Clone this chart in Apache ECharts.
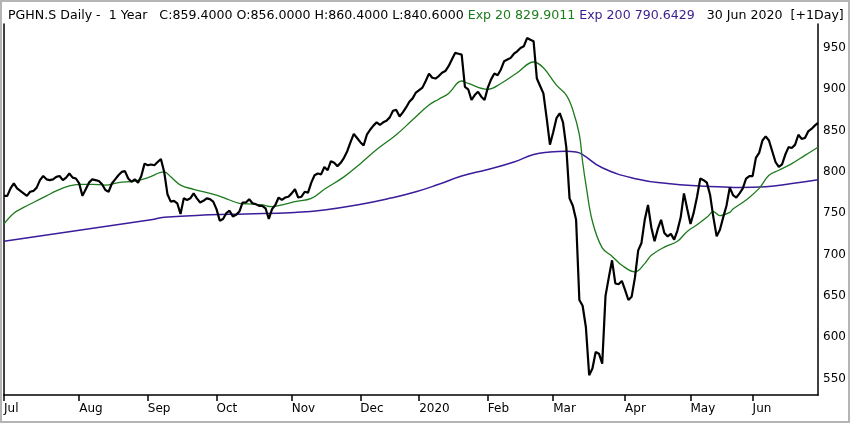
<!DOCTYPE html>
<html>
<head>
<meta charset="utf-8">
<script src="https://cdn.jsdelivr.net/npm/echarts@6/dist/echarts.min.js"></script>
<style>
  html, body { margin: 0; padding: 0; background: #fff; }
  #view { width: 850px; height: 423px; }
</style>
</head>
<body>
<div id="view"></div>
<script>
// SIX closing days skipped between Jul 2019 and Jun 2020
var holidays = ['2019-08-01', '2019-12-24', '2019-12-25', '2019-12-26', '2019-12-31',
    '2020-01-01', '2020-01-02', '2020-04-10', '2020-04-13', '2020-05-01', '2020-05-21', '2020-06-01'];
var monthNames = ['2020', 'Feb', 'Mar', 'Apr', 'May', 'Jun', 'Jul', 'Aug', 'Sep', 'Oct', 'Nov', 'Dec'];
var yTicks = [550, 600, 650, 700, 750, 800, 850, 900, 950];

// daily close
var closes = [
    771, 771, 780, 786, 780, 777, 774, 771, 776, 777,
    781, 790, 795, 791, 790, 791, 794, 795, 790, 793,
    798, 793, 792, 786, 771, 779, 787, 791, 790, 789,
    785, 778, 776, 786, 791, 796, 800, 801, 792, 788,
    791, 787, 795, 810, 808, 809, 808, 812, 815.5, 800,
    773, 764, 765, 762, 749, 768, 766, 768, 774, 768,
    763, 765, 768, 767, 764, 755, 741, 743, 750, 753,
    746, 748, 752, 763, 763, 767, 762, 761, 759, 759,
    756, 743, 755, 760, 769, 766, 769, 770, 774, 779,
    769, 770, 776, 775, 787, 796, 798, 797, 806, 802,
    813, 811, 807, 811, 817, 825, 836, 846, 841, 836,
    832, 845, 851, 856, 860, 857, 860, 862, 866, 874,
    875, 867, 872, 878, 885, 889, 896, 899, 902, 910,
    919, 914, 913, 916, 920, 922, 928, 936, 944, 943,
    942, 903, 900, 887, 893, 897, 891, 887, 902, 912,
    919, 917, 924, 934, 936, 938, 943, 946, 950, 952,
    962, 960, 958, 913, 904, 895, 865, 833, 848, 865,
    871, 860, 830, 768, 759, 742, 645, 638, 612, 554,
    562, 582, 580, 568, 650, 672, 693, 665, 664, 668,
    657, 645, 649, 672, 705, 714, 742, 760, 733, 716,
    731, 742, 726, 722, 725, 718, 729, 745, 774, 755,
    737, 751, 770, 792, 790, 787, 772, 745, 722, 730,
    745, 759, 781, 772, 769, 774, 780, 792, 795, 795,
    817, 823, 838, 843, 838, 825, 812, 806, 809, 821,
    830, 829, 833, 845, 840, 841, 849, 852, 856, 859.4
];

// Exp 20 read at [day index, value]
var exp20 = [
    [0, 737], [3, 750], [6, 757], [9, 763], [13, 771], [16, 777], [20, 783], [23, 785], [27, 785],
    [31, 784], [35, 787], [40, 789], [44, 793], [49, 800], [51, 794], [54, 784], [58, 779], [65, 772],
    [69, 766], [72, 762], [76, 761], [79, 760], [82, 758], [86, 761], [89, 764], [94, 768], [98, 779],
    [104, 794], [109, 810], [114, 827], [120, 845], [125, 863], [130, 881], [133, 888], [136, 895],
    [140, 910], [142, 907], [148, 900], [152, 907], [157, 920], [162, 933], [165, 926], [169, 905],
    [172, 893], [174, 875], [176, 845], [177, 812], [178, 785], [180, 740], [183, 708], [186, 698],
    [189, 687], [193, 679], [196, 689], [198, 699], [202, 709], [206, 716], [209, 728], [212, 736],
    [215, 745], [217, 752], [219, 747], [222, 751], [223, 755], [227, 766], [231, 780], [234, 796],
    [237, 802], [241, 810], [245, 820], [249, 829.9]
];

// Exp 200 read at [day index, value]
var exp200 = [
    [0, 716], [45, 742], [49, 745], [63, 748], [74, 749], [89, 751], [98, 754], [108, 760],
    [118, 768], [126, 776], [133, 785], [140, 795], [148, 803], [156, 812], [162, 821], [167, 824],
    [172, 825], [175, 824], [177, 821], [183, 805], [194, 791], [203, 786], [213, 783], [222, 781.5],
    [225, 781], [233, 782], [241, 786], [249, 790.6]
];

function pad(n) { return n < 10 ? '0' + n : '' + n; }
var days = [];
var d = new Date(Date.UTC(2019, 6, 1));
while (days.length < closes.length) {
    var s = d.getUTCFullYear() + '-' + pad(d.getUTCMonth() + 1) + '-' + pad(d.getUTCDate());
    var wd = d.getUTCDay();
    if (wd !== 0 && wd !== 6 && holidays.indexOf(s) < 0) days.push(s);
    d.setUTCDate(d.getUTCDate() + 1);
}
function isMonthStart(i) {
    return i === 0 || days[i].substr(5, 2) !== days[i - 1].substr(5, 2);
}

var myChart = echarts.init(document.getElementById('view'));
var font = 'DejaVu Sans';
var hs = 12.6; // header font size
var option = {
    animation: false,
    backgroundColor: '#fff',
    title: {
        left: 3,
        top: 4,
        text: '{k|PGHN.S Daily -  1 Year   C:859.4000 O:856.0000 H:860.4000 L:840.6000 }{g|Exp 20 829.9011 }{p|Exp 200 790.6429}{k|   30 Jun 2020  [+1Day]}',
        textStyle: {
            fontWeight: 'normal',
            rich: {
                k: { color: '#000', fontFamily: font, fontSize: hs, fontWeight: 'normal' },
                g: { color: '#1d7a1d', fontFamily: font, fontSize: hs, fontWeight: 'normal' },
                p: { color: '#3b1c8c', fontFamily: font, fontSize: hs, fontWeight: 'normal' }
            }
        }
    },
    graphic: [{
        type: 'rect',
        shape: { x: 1, y: 1, width: 848, height: 421 },
        style: { fill: 'none', stroke: '#b4b4b4', lineWidth: 2 },
        silent: true
    }],
    grid: { left: 4, right: 32, top: 24, bottom: 28 },
    xAxis: {
        type: 'category',
        data: days,
        boundaryGap: false,
        axisLine: { lineStyle: { color: '#000', width: 1.5 } },
        axisTick: {
            length: 6,
            lineStyle: { color: '#000', width: 1.5 },
            interval: function (i) { return isMonthStart(i); }
        },
        axisLabel: {
            interval: function (i) { return isMonthStart(i); },
            align: 'left',
            margin: 8,
            color: '#000',
            fontFamily: font,
            fontSize: 12,
            formatter: function (v) { return monthNames[+v.substr(5, 2) - 1]; }
        },
        splitLine: { show: false }
    },
    yAxis: [{
        type: 'value',
        position: 'right',
        min: 530,
        max: 979,
        axisLine: { show: true, lineStyle: { color: '#000', width: 1.5 } },
        axisTick: { show: false },
        axisLabel: {
            customValues: yTicks,
            margin: 5,
            color: '#000',
            fontFamily: font,
            fontSize: 12
        },
        splitLine: { show: false }
    }, {
        type: 'value',
        position: 'left',
        min: 530,
        max: 979,
        axisLine: { show: true, lineStyle: { color: '#000', width: 1.5 } },
        axisTick: { show: false },
        axisLabel: { show: false },
        splitLine: { show: false }
    }],
    series: [{
        name: 'Exp 200',
        type: 'line',
        data: exp200,
        smooth: 0.5,
        showSymbol: false,
        lineStyle: { color: '#3b1c9a', width: 1.5 }
    }, {
        name: 'Exp 20',
        type: 'line',
        data: exp20,
        smooth: 0.4,
        showSymbol: false,
        lineStyle: { color: '#1d7a1d', width: 1.3 }
    }, {
        name: 'Close',
        type: 'line',
        data: closes,
        showSymbol: false,
        lineStyle: { color: '#000', width: 2.2 }
    }]
};
myChart.setOption(option);
</script>
</body>
</html>
